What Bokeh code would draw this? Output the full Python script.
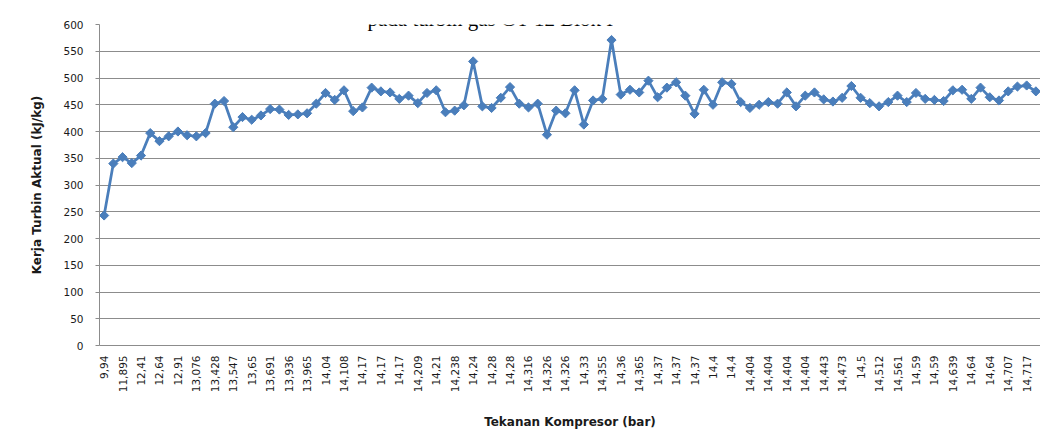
import math
from bokeh.plotting import figure
from bokeh.models import Range1d, FixedTicker, Label
from bokeh.embed import file_html
from bokeh.resources import INLINE

# Category tick labels (shown on every other point)
tick_labels = [
    "9,94", "11,895", "12,41", "12,64", "12,91", "13,076", "13,428", "13,547",
    "13,65", "13,691", "13,936", "13,965", "14,04", "14,108", "14,17", "14,17",
    "14,17", "14,209", "14,21", "14,238", "14,24", "14,28", "14,28", "14,316",
    "14,326", "14,326", "14,33", "14,355", "14,36", "14,365", "14,37", "14,37",
    "14,37", "14,4", "14,4", "14,404", "14,404", "14,404", "14,404", "14,443",
    "14,473", "14,5", "14,512", "14,561", "14,59", "14,59", "14,639", "14,64",
    "14,64", "14,707", "14,717",
]

# Kerja Turbin Aktual (kJ/kg), one value per category
kerja = [
    243, 340, 352, 341, 355, 397, 382, 391, 400, 393,
    391, 397, 452, 457, 408, 427, 422, 430, 442, 441,
    431, 432, 434, 452, 472, 459, 477, 438, 445, 482,
    475, 473, 461, 467, 453, 472, 477, 436, 439, 449,
    531, 447, 444, 463, 483, 452, 445, 452, 394, 439,
    434, 477, 413, 458, 461, 571, 469, 478, 473, 495,
    464, 482, 492, 467, 433, 478, 450, 492, 489, 455,
    444, 450, 455, 452, 473, 447, 467, 473, 460, 456,
    463, 485, 463, 453, 447, 455, 467, 455, 472, 461,
    459, 457, 477, 478, 461, 482, 464, 458, 475, 484,
    486, 475,
]

title_text = "pada turbin gas GT 12 Blok I"
x_title = "Tekanan Kompresor (bar)"
y_title = "Kerja Turbin Aktual (kJ/kg)"

xs = list(range(len(kerja)))
tick_pos = [2 * i for i in range(len(tick_labels))]

BLUE = "#4A7EBB"
GRID = "#8c8c8c"

p = figure(
    width=1040, height=433,
    output_backend="svg", toolbar_location=None,
    x_range=Range1d(-0.5, len(kerja) - 0.5),
    y_range=Range1d(0, 600),
    min_border_left=99, min_border_right=0,
    min_border_top=24, min_border_bottom=88,
)
p.outline_line_color = None
p.background_fill_color = "white"
p.border_fill_color = "white"

p.line(xs, kerja, line_color=BLUE, line_width=2.75)
p.scatter(xs, kerja, marker="square", angle=math.pi / 4, size=6.5,
          fill_color=BLUE, line_color=BLUE)

# X axis
p.xaxis.ticker = FixedTicker(ticks=tick_pos)
p.xaxis.major_label_overrides = {t: lab for t, lab in zip(tick_pos, tick_labels)}
p.xaxis.major_label_orientation = math.pi / 2
p.xaxis.major_tick_out = 0
p.xaxis.major_tick_in = 0
p.xaxis.minor_tick_out = 0
p.xaxis.minor_tick_in = 0
p.xaxis.major_label_standoff = 10
p.xaxis.major_label_text_font = "DejaVu Sans"
p.xaxis.major_label_text_font_size = "10.5px"
p.xaxis.major_label_text_color = "#1a1a1a"
p.xaxis.axis_line_color = GRID
p.xaxis.axis_label = x_title
p.xaxis.axis_label_text_font = "DejaVu Sans"
p.xaxis.axis_label_text_font_size = "12px"
p.xaxis.axis_label_text_font_style = "bold"
p.xaxis.axis_label_text_color = "#1a1a1a"
p.xaxis.axis_label_standoff = 20
p.xgrid.grid_line_color = None

# Y axis
p.yaxis.ticker = FixedTicker(ticks=list(range(0, 601, 50)))
p.yaxis.major_tick_out = 4
p.yaxis.major_tick_in = 0
p.yaxis.minor_tick_out = 0
p.yaxis.minor_tick_in = 0
p.yaxis.major_tick_line_color = GRID
p.yaxis.axis_line_color = GRID
p.yaxis.major_label_standoff = 12
p.yaxis.major_label_text_font = "DejaVu Sans"
p.yaxis.major_label_text_font_size = "10.5px"
p.yaxis.major_label_text_color = "#1a1a1a"
p.yaxis.axis_label = y_title
p.yaxis.axis_label_text_font = "DejaVu Sans"
p.yaxis.axis_label_text_font_size = "12px"
p.yaxis.axis_label_text_font_style = "bold"
p.yaxis.axis_label_text_color = "#1a1a1a"
p.yaxis.axis_label_standoff = 16
p.ygrid.grid_line_color = GRID
p.ygrid.grid_line_width = 1

# Title at the top of the chart
p.add_layout(Label(
    x=268, y=327, x_units="screen", y_units="screen",
    text=title_text, text_font="Liberation Serif", text_font_size="21px",
    text_align="left", text_baseline="alphabetic", text_color="black",
))

open("out.html", "w").write(file_html(p, INLINE))
